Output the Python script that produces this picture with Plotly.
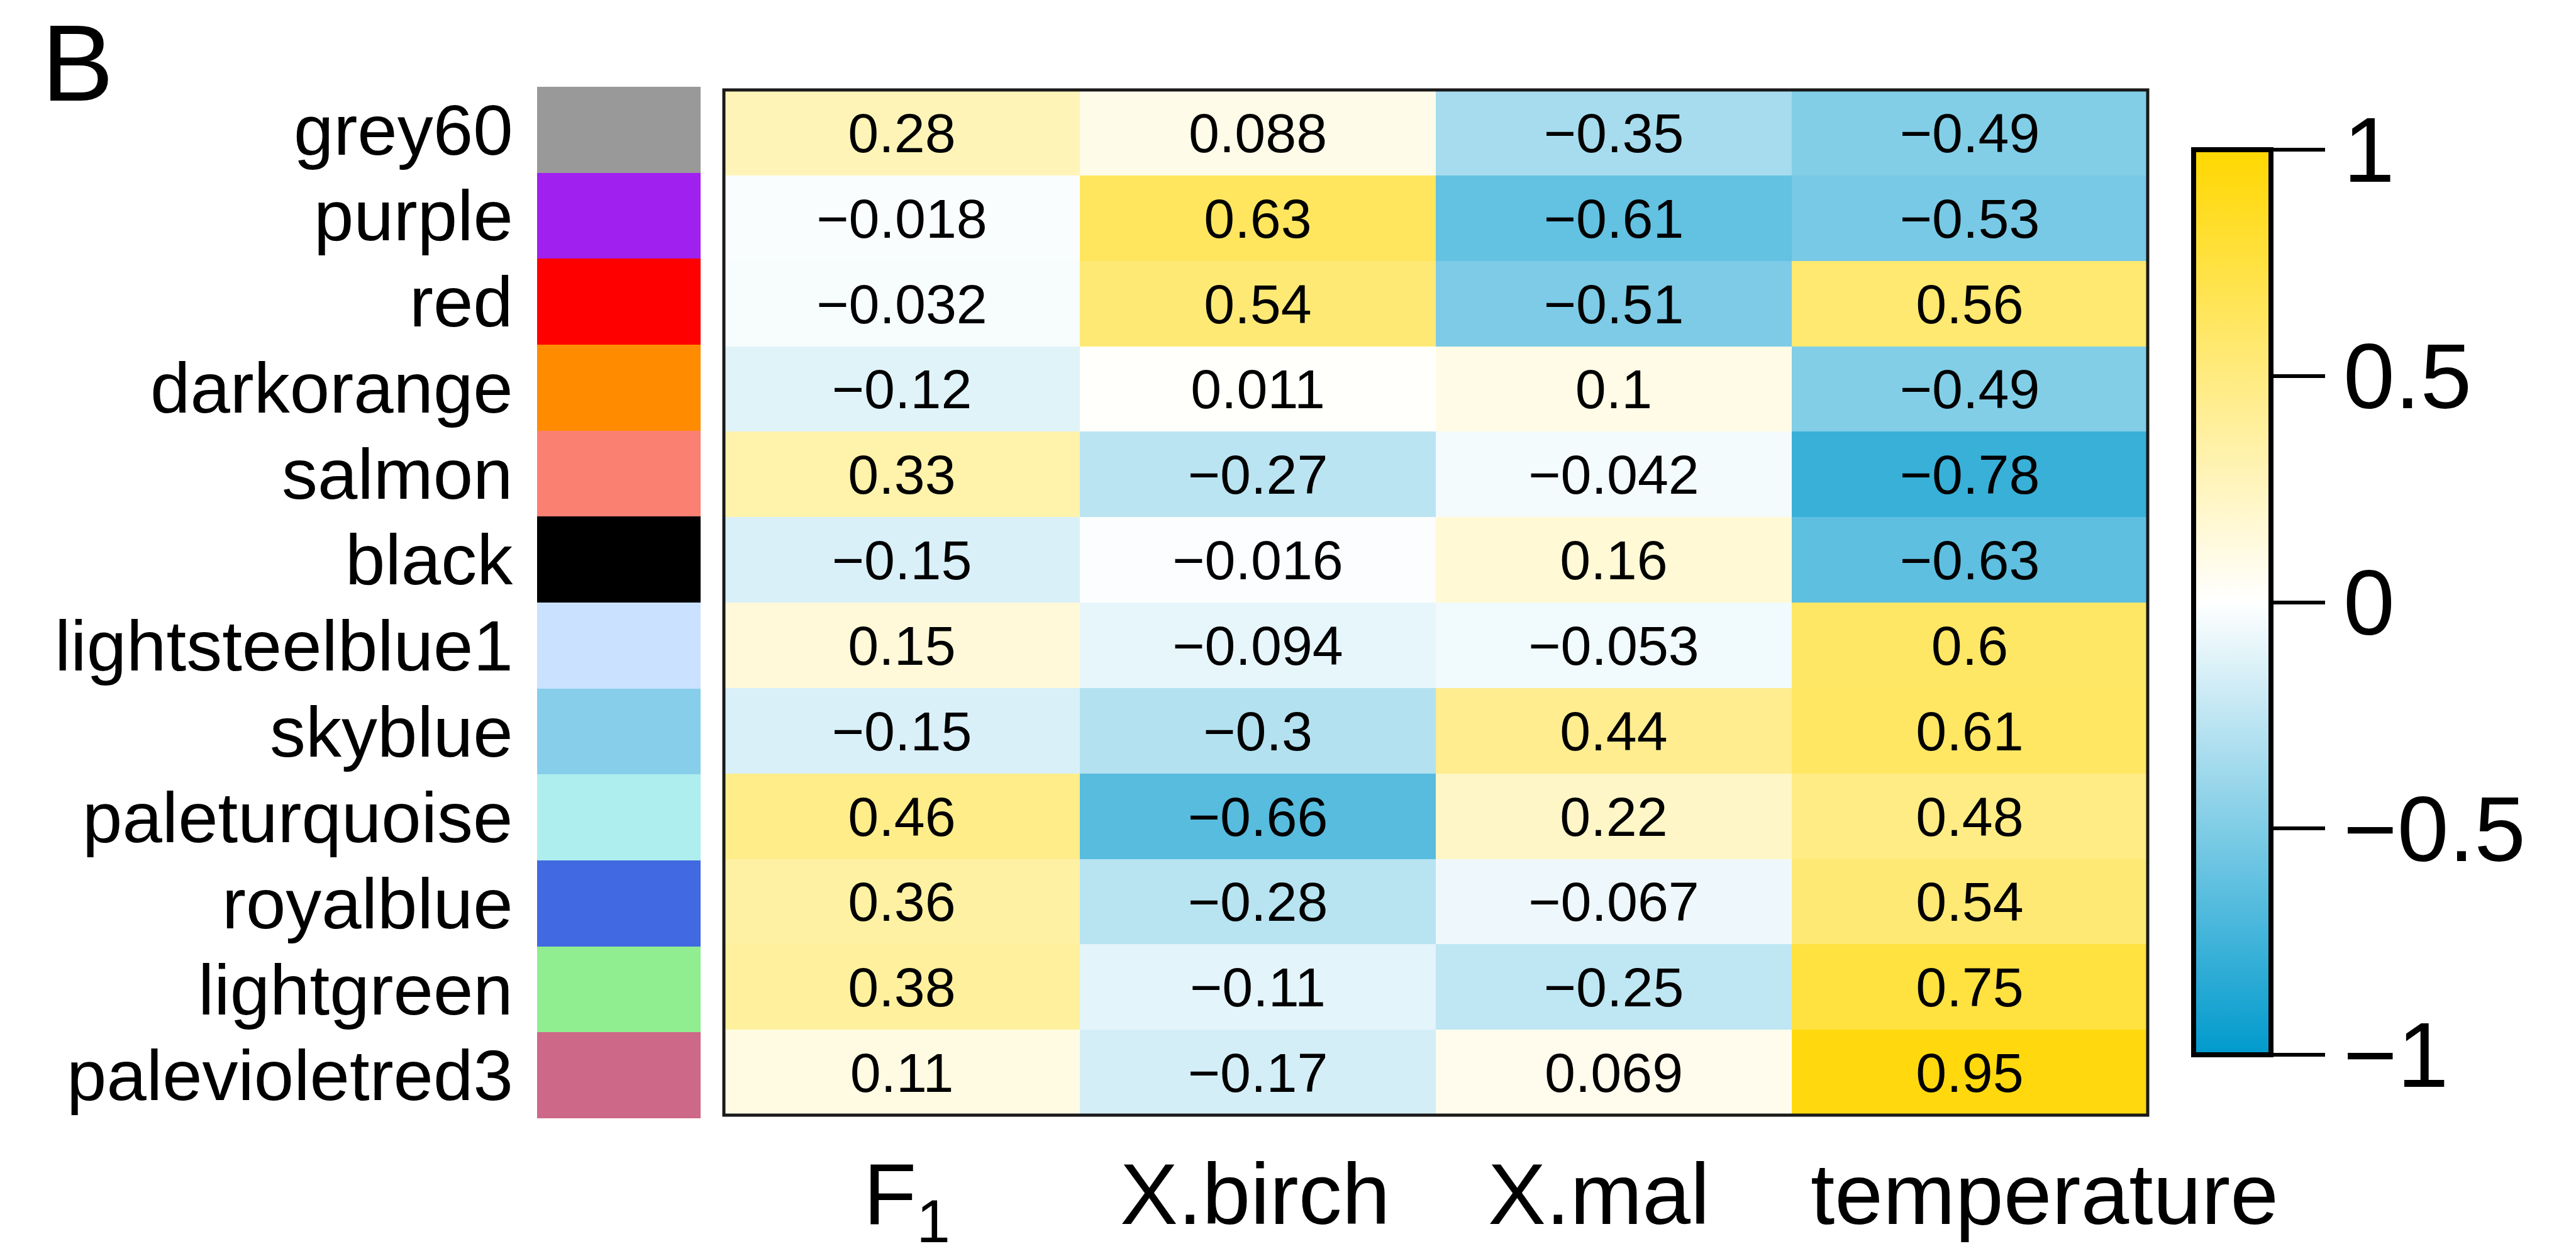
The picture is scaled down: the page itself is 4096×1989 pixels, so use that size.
import plotly.graph_objects as go

# ---------------- data ----------------
modules = ["grey60", "purple", "red", "darkorange", "salmon", "black",
           "lightsteelblue1", "skyblue", "paleturquoise", "royalblue",
           "lightgreen", "palevioletred3"]
module_colors = ["#999999", "#A020F0", "#FF0000", "#FF8C00", "#FA8072", "#000000",
                 "#CAE1FF", "#87CEEB", "#AFEEEE", "#4169E1", "#90EE90", "#CD6889"]
traits = ["F1", "X.birch", "X.mal", "temperature"]
trait_labels = ["F<sub>1</sub>", "X.birch", "X.mal", "temperature"]

F1 = [0.28, -0.018, -0.032, -0.12, 0.33, -0.15, 0.15, -0.15, 0.46, 0.36, 0.38, 0.11]
X_birch = [0.088, 0.63, 0.54, 0.011, -0.27, -0.016, -0.094, -0.3, -0.66, -0.28, -0.11, -0.17]
X_mal = [-0.35, -0.61, -0.51, 0.1, -0.042, 0.16, -0.053, 0.44, 0.22, -0.067, -0.25, 0.069]
temperature = [-0.49, -0.53, 0.56, -0.49, -0.78, -0.63, 0.6, 0.61, 0.48, 0.54, 0.75, 0.95]

cbar_vals = [1, 0.5, 0, -0.5, -1]
cbar_text = ["1", "0.5", "0", "\u22120.5", "\u22121"]

# ---------------- build ----------------
cols = [F1, X_birch, X_mal, temperature]
z = [[cols[j][i] for j in range(len(traits))] for i in range(len(modules))]


def fmt(v):
    s = ("%g" % v)
    return s.replace("-", "\u2212")


text = [[fmt(v) for v in row] for row in z]

W, H = 4096, 1989
FONT = "Liberation Sans, Arial, Helvetica, sans-serif"

hx0, hx1 = 1151 / W, 3415 / W
hy0, hy1 = 1 - 1773 / H, 1 - 143 / H
sx0, sx1 = 854 / W, 1114 / W
sy0, sy1 = 1 - 1778 / H, 1 - 138 / H

n = len(modules)
m = len(traits)

fig = go.Figure()

fig.add_trace(go.Heatmap(
    z=z, x=list(range(m)), y=list(range(n)),
    zmin=-1, zmax=1,
    colorscale=[[0, "#009ACD"], [0.5, "#FFFFFF"], [1, "#FFD700"]],
    text=text, texttemplate="%{text}",
    textfont=dict(family=FONT, size=88, color="black"),
    xaxis="x", yaxis="y",
    colorbar=dict(
        x=3488 / W, xanchor="left", xpad=0,
        y=1 - 238 / H, yanchor="top", ypad=0,
        len=1439, lenmode="pixels",
        thickness=123, thicknessmode="pixels",
        outlinewidth=8, outlinecolor="black",
        tickmode="array", tickvals=cbar_vals, ticktext=cbar_text,
        ticks="outside", ticklen=82, tickwidth=6, tickcolor="black",
        tickfont=dict(family=FONT, size=147, color="black"),
    ),
    hoverinfo="skip",
))

# module colour strip
cs = []
for i, c in enumerate(module_colors):
    cs.append([i / n, c])
    cs.append([(i + 1) / n, c])
fig.add_trace(go.Heatmap(
    z=[[i] for i in range(n)], x=[0], y=list(range(n)),
    zmin=-0.5, zmax=n - 0.5, colorscale=cs, showscale=False,
    xaxis="x2", yaxis="y2", hoverinfo="skip",
))

axis_off = dict(showticklabels=False, ticks="", showgrid=False, zeroline=False, showline=False)
fig.update_layout(
    width=W, height=H,
    margin=dict(l=0, r=0, t=0, b=0),
    paper_bgcolor="white", plot_bgcolor="white",
    xaxis=dict(domain=[hx0, hx1], range=[-0.5, m - 0.5], **axis_off),
    yaxis=dict(domain=[hy0, hy1], range=[n - 0.5, -0.5], **axis_off),
    xaxis2=dict(domain=[sx0, sx1], anchor="y2", range=[-0.5, 0.5], **axis_off),
    yaxis2=dict(domain=[sy0, sy1], anchor="x2", range=[n - 0.5, -0.5], **axis_off),
    showlegend=False,
)

# heatmap border
fig.add_shape(type="rect", xref="x domain", yref="y domain", x0=0, x1=1, y0=0, y1=1,
              line=dict(color="#1a1a1a", width=5))

# row labels
for i, mod in enumerate(modules):
    fig.add_annotation(x=818 / W, xref="paper", xanchor="right", y=i, yref="y2",
                       yanchor="middle", text=mod, showarrow=False,
                       font=dict(family=FONT, size=114, color="black"))

# column labels (per-label horizontal nudges, in px, as in the original figure)
label_xshift = [8, -4, -24, 119]
for j, lab in enumerate(trait_labels):
    fig.add_annotation(x=j, xref="x", xanchor="center", y=1 - 1819 / H, yref="paper",
                       yanchor="top", text=lab, showarrow=False, xshift=label_xshift[j],
                       font=dict(family=FONT, size=138, color="black"))

# panel letter
fig.add_annotation(x=64 / W, xref="paper", xanchor="left", y=1 - 2 / H, yref="paper",
                   yanchor="top", text="B", showarrow=False,
                   font=dict(family=FONT, size=172, color="black"))

fig.write_html("out.html")
